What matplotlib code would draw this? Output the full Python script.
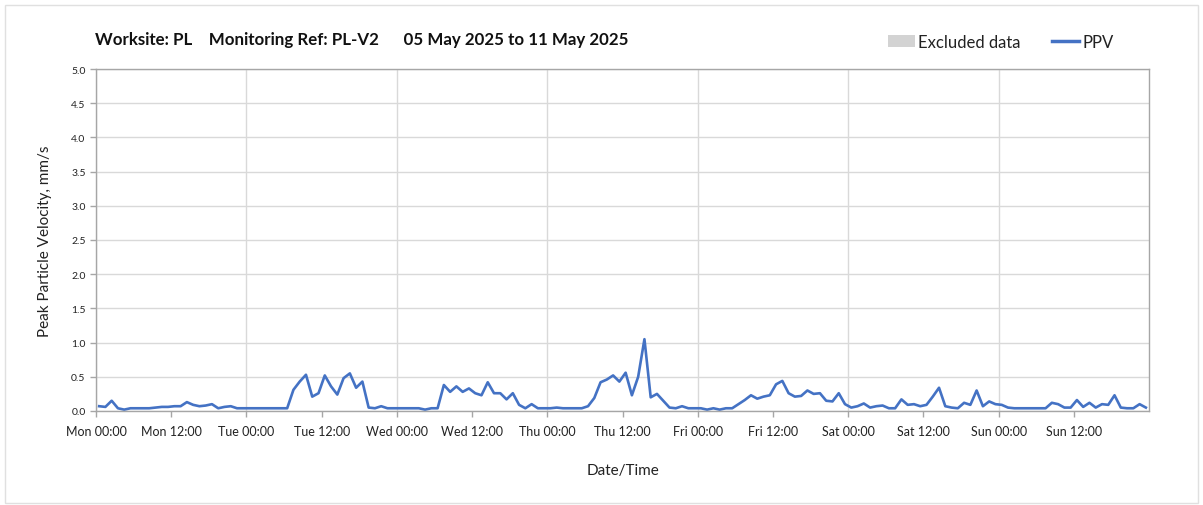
import numpy as np
import pandas as pd
import matplotlib
matplotlib.use('Agg')
import matplotlib.pyplot as plt
import matplotlib.dates as mdates
from matplotlib.patches import Patch, Rectangle
from matplotlib.lines import Line2D

plt.rcParams['font.family'] = ['Lato', 'DejaVu Sans']

## Data: hourly PPV readings, 05 May 2025 to 11 May 2025
start = '2025-05-05 00:30'
ppv = [
    # Mon
    0.07, 0.06, 0.15, 0.04, 0.02, 0.04, 0.04, 0.04, 0.04, 0.05, 0.06, 0.06,
    0.07, 0.07, 0.13, 0.09, 0.07, 0.08, 0.10, 0.04, 0.06, 0.07, 0.04, 0.04,
    # Tue
    0.04, 0.04, 0.04, 0.04, 0.04, 0.04, 0.04, 0.31, 0.43, 0.53, 0.21, 0.26,
    0.52, 0.36, 0.24, 0.48, 0.55, 0.34, 0.43, 0.05, 0.04, 0.07, 0.04, 0.04,
    # Wed
    0.04, 0.04, 0.04, 0.04, 0.02, 0.04, 0.04, 0.38, 0.28, 0.36, 0.28, 0.33,
    0.26, 0.23, 0.42, 0.26, 0.26, 0.17, 0.26, 0.09, 0.04, 0.10, 0.04, 0.04,
    # Thu
    0.04, 0.05, 0.04, 0.04, 0.04, 0.04, 0.07, 0.19, 0.42, 0.46, 0.52, 0.43,
    0.56, 0.23, 0.50, 1.05, 0.20, 0.25, 0.15, 0.05, 0.04, 0.07, 0.04, 0.04,
    # Fri
    0.04, 0.02, 0.04, 0.02, 0.04, 0.04, 0.10, 0.16, 0.23, 0.18, 0.21, 0.23,
    0.39, 0.44, 0.26, 0.21, 0.22, 0.30, 0.25, 0.26, 0.15, 0.14, 0.26, 0.10,
    # Sat
    0.05, 0.07, 0.11, 0.05, 0.07, 0.08, 0.04, 0.04, 0.17, 0.09, 0.10, 0.07,
    0.09, 0.21, 0.34, 0.07, 0.05, 0.04, 0.12, 0.09, 0.30, 0.07, 0.14, 0.10,
    # Sun
    0.09, 0.05, 0.04, 0.04, 0.04, 0.04, 0.04, 0.04, 0.12, 0.10, 0.05, 0.05,
    0.16, 0.06, 0.12, 0.05, 0.10, 0.09, 0.23, 0.05, 0.04, 0.04, 0.10, 0.05,
]
times = pd.date_range(start, periods=len(ppv), freq='h')

title = 'Worksite: PL    Monitoring Ref: PL-V2      05 May 2025 to 11 May 2025'
y_ticks = [0.0, 0.5, 1.0, 1.5, 2.0, 2.5, 3.0, 3.5, 4.0, 4.5, 5.0]
day_ticks = pd.date_range('2025-05-05', periods=7, freq='D')
noon_ticks = pd.date_range('2025-05-05 12:00', periods=7, freq='D')

line_col = '#4472C4'
grid_col = '#d9d9d9'
frame_col = '#a6a6a6'

fig = plt.figure(figsize=(12.03, 5.06), dpi=100)
W, H = 1203, 506
ax = fig.add_axes([96/W, 1-412/H, (1149-96)/W, (412-70)/H])

ax.plot(times, ppv, color=line_col, lw=1.9, solid_joinstyle='round')

ax.set_xlim(pd.Timestamp('2025-05-05'), pd.Timestamp('2025-05-12'))
ax.set_ylim(0, 5)
ax.set_yticks(y_ticks)
ax.yaxis.set_major_formatter(matplotlib.ticker.FormatStrFormatter('%.1f'))

ax.xaxis.set_major_locator(matplotlib.ticker.FixedLocator(mdates.date2num(day_ticks)))
ax.xaxis.set_minor_locator(matplotlib.ticker.FixedLocator(mdates.date2num(noon_ticks)))
ax.xaxis.set_major_formatter(mdates.DateFormatter('%a %H:%M'))
ax.xaxis.set_minor_formatter(mdates.DateFormatter('%a %H:%M'))

ax.grid(True, axis='y', color=grid_col, lw=1)
ax.grid(True, axis='x', which='major', color=grid_col, lw=1)
ax.set_axisbelow(True)

for s in ax.spines.values():
    s.set_color(frame_col)
    s.set_linewidth(1)
ax.tick_params(axis='both', which='both', color=frame_col, length=4, width=1,
               labelsize=7.5, labelcolor='#222222')
ax.tick_params(axis='x', which='both', labelsize=9, pad=6)

ax.set_ylabel('Peak Particle Velocity, mm/s', fontsize=11, color='#222222', labelpad=14)
ax.set_xlabel('Date/Time', fontsize=11, color='#222222', labelpad=19)

fig.text(95/W, 1-40/H, title, fontsize=12.2, fontweight='bold', va='center', ha='left', color='#111111')

handles = [Patch(facecolor='#d3d3d3', edgecolor='none', label='Excluded data'),
           Line2D([], [], color=line_col, lw=2.5, label='PPV')]
fig.legend(handles=handles, loc='center left', bbox_to_anchor=(873/W, 1-43/H), ncol=2,
           frameon=False, fontsize=12, handlelength=1.6, handletextpad=0.2,
           columnspacing=1.9, labelcolor='#222222')

fig.patches.append(Rectangle((5/W, 2/H), 1193/W, 498/H, transform=fig.transFigure,
                             fill=False, edgecolor='#e0e0e0', lw=1))

fig.savefig('out.png', dpi=100)
